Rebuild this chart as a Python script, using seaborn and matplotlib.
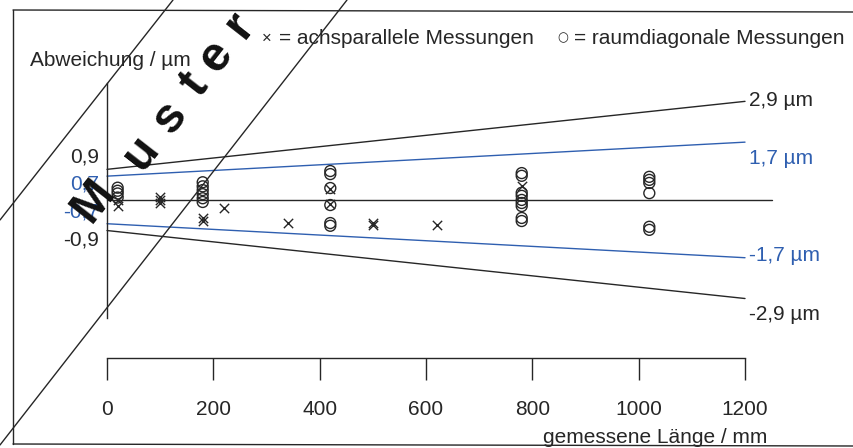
import matplotlib
matplotlib.use("Agg")
import matplotlib.pyplot as plt
import seaborn as sns
from matplotlib.lines import Line2D

W, H = 854, 448
INK = "#262626"
BLUE = "#2f5fb0"
FS = 15

# axis-parallel measurements (x markers)
cross_length_mm = [20, 20, 100, 100, 100, 180, 180, 220, 340, 420, 420, 500, 500, 620, 780]
cross_dev_um = [0.00, -0.17, 0.08, -0.01, -0.10, -0.54, -0.62, -0.24, -0.67, 0.32, -0.12,
                -0.68, -0.74, -0.75, 0.41]

# space-diagonal measurements (o markers)
circle_length_mm = [20, 20, 20, 20,
                    180, 180, 180, 180, 180, 180,
                    420, 420, 420, 420, 420, 420,
                    780, 780, 780, 780, 780, 780, 780, 780, 780,
                    1020, 1020, 1020, 1020, 1020, 1020]
circle_dev_um = [0.36, 0.27, 0.19, 0.07,
                 0.52, 0.40, 0.29, 0.17, 0.05, -0.06,
                 0.85, 0.76, 0.35, -0.15, -0.68, -0.76,
                 0.79, 0.71, 0.21, 0.12, 0.00, -0.09, -0.18, -0.53, -0.62,
                 0.68, 0.59, 0.50, 0.20, -0.79, -0.88]

# limit lines
limit_length_mm = [0, 1200]
mpe_outer_um = [0.9, 2.9]
mpe_inner_um = [0.7, 1.7]
zero_length_mm = [0, 1250]
zero_dev_um = [0, 0]

x_ticks = [0, 200, 400, 600, 800, 1000, 1200]
left_labels = ["0,9", "0,7", "-0,7", "-0,9"]
right_labels = ["2,9 µm", "1,7 µm", "-1,7 µm", "-2,9 µm"]
label_colors = [INK, BLUE, BLUE, INK]

# layout (pixel positions in the 854x448 picture)
left_label_py = [157, 184, 212, 240]
right_label_py = [100, 158, 255, 314]
watermark_letters = ["M", "u", "s", "t", "e", "r"]
watermark_xy = [(93, 200), (141, 153), (170, 118), (195, 85), (216, 57), (240, 25)]


def fpos(px, py):
    return px / W, 1 - py / H


def fig_line(fig, p0, p1, lw=1.0):
    (x0, y0), (x1, y1) = fpos(*p0), fpos(*p1)
    fig.add_artist(Line2D([x0, x1], [y0, y1], transform=fig.transFigure, color=INK, lw=lw))


sns.set_style("white")
plt.rcParams["font.family"] = ["Liberation Sans", "DejaVu Sans"]

fig = plt.figure(figsize=(W / 100, H / 100), dpi=100)
ax = fig.add_axes([107 / W, 1 - 358 / H, 664.6 / W, 275 / H])
ax.set_xlim(0, 1250)
ax.set_ylim(-4.65, 3.44)

for vals, col in [(mpe_outer_um, INK), (mpe_inner_um, BLUE)]:
    sns.lineplot(x=limit_length_mm, y=vals, color=col, lw=1.0, ax=ax)
    sns.lineplot(x=limit_length_mm, y=[-v for v in vals], color=col, lw=1.0, ax=ax)
sns.lineplot(x=zero_length_mm, y=zero_dev_um, color=INK, lw=1.0, ax=ax)
for line in ax.lines:
    line.set_clip_on(False)

sns.scatterplot(x=circle_length_mm, y=circle_dev_um, marker="o", s=62,
                facecolor="none", edgecolor=INK, linewidth=1.0, ax=ax)
sns.scatterplot(x=cross_length_mm, y=cross_dev_um, marker="x", s=45,
                color=INK, linewidth=1.0, ax=ax)

sns.despine(ax=ax, top=True, right=True)
ax.spines["left"].set_bounds(-3.47, 3.44)
ax.spines["bottom"].set_bounds(0, 1200)
for side in ("left", "bottom"):
    ax.spines[side].set_color(INK)
    ax.spines[side].set_linewidth(1.0)
ax.set_yticks([])
ax.set_xticks(x_ticks)
ax.set_xticklabels([str(t) for t in x_ticks])
ax.tick_params(axis="x", direction="out", length=16, width=1.0, pad=14,
               labelsize=FS, colors=INK, bottom=True)
ax.set_xlabel("")
ax.set_ylabel("")
ax.patch.set_alpha(0)

# axis titles and legend text
fig.text(*fpos(30, 60), "Abweichung / µm", fontsize=FS, color=INK, va="center", ha="left")
fig.text(*fpos(767, 437), "gemessene Länge / mm", fontsize=FS, color=INK, va="center", ha="right")
fig.text(*fpos(262, 38), "×", fontsize=12, color=INK, va="center", ha="left")
fig.text(*fpos(279, 38), "= achsparallele Messungen", fontsize=FS, color=INK, va="center", ha="left")
fig.text(*fpos(557, 38), "○", fontsize=9, color=INK, va="center", ha="left",
         family=["DejaVu Sans"])
fig.text(*fpos(574, 38), "= raumdiagonale Messungen", fontsize=FS, color=INK, va="center", ha="left")

for txt, py, col in zip(left_labels, left_label_py, label_colors):
    fig.text(*fpos(99, py), txt, fontsize=FS, color=col, va="center", ha="right")
for txt, py, col in zip(right_labels, right_label_py, label_colors):
    fig.text(*fpos(749, py), txt, fontsize=FS, color=col, va="center", ha="left")

# scanned frame
fig_line(fig, (13, 10), (13, 444))
fig_line(fig, (13, 10), (854, 12))
fig_line(fig, (13, 444), (854, 446))

# "Muster" watermark
fig_line(fig, (0, 220), (173, 0))
fig_line(fig, (347, 0), (0, 445))
for ch, (px, py) in zip(watermark_letters, watermark_xy):
    fig.text(*fpos(px, py), ch, fontsize=35, fontweight="bold", color="#111111",
             rotation=52, rotation_mode="anchor", ha="center", va="center")

fig.savefig("out.png", dpi=100)
